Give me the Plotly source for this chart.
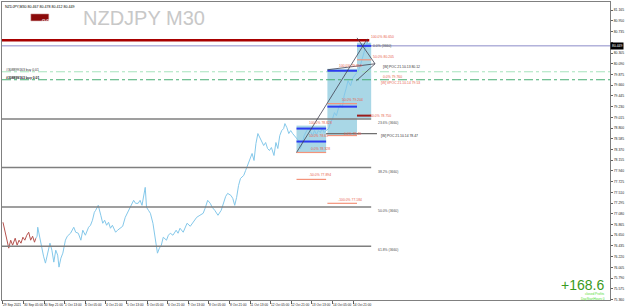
import plotly.graph_objects as go

# ---------------- data ----------------
symbol = "NZDJPY"
timeframe = "M30"
header_ohlc = ["80.467", "80.478", "80.412", "80.449"]
bid = 80.449

bars_red = [0, 3, 6, 9, 12, 15, 19, 22, 25, 28, 31, 34, 37, 40, 43, 46, 49, 51]
price_red = [76.909, 76.749, 76.549, 76.389, 76.549, 76.449, 76.589, 76.449, 76.549, 76.489,
             76.609, 76.549, 76.649, 76.709, 76.549, 76.629, 76.509, 76.589]

bars_blue = [51, 53, 54, 57, 60, 63, 66, 70, 73, 76,
             79, 82, 85, 87, 90, 93, 96, 97, 100, 105,
             110, 113, 117, 121, 124, 128, 133, 136, 139, 142,
             144, 147, 148, 152, 155, 158, 161, 164, 167, 170,
             175, 178, 182, 186, 190, 193, 198, 203, 206, 210,
             213, 216, 221, 223, 226, 229, 233, 237, 240, 243,
             246, 249, 254, 257, 260, 264, 269, 272, 275, 280,
             283, 286, 291, 295, 298, 301, 306, 311, 314, 318,
             322, 325, 329, 334, 339, 342, 346, 349, 354, 357,
             360, 363, 366, 369, 374, 377, 380, 383, 387, 390,
             393, 396, 399, 402, 405, 408, 411, 414, 417, 421,
             424, 427, 430, 433, 436, 438, 441, 444, 447, 450,
             453, 456, 459, 462, 465, 468, 472, 475, 478, 481,
             484, 487, 490, 493, 496, 499, 502, 506, 509, 512,
             515, 518, 521, 524, 527, 530, 533, 536, 540, 543,
             546, 549, 552, 555, 558, 561, 563, 564, 566, 567,
             569, 570]
price_blue = [76.589, 76.629, 76.809, 76.589, 76.449, 76.229, 76.089, 76.349, 76.489, 76.349,
              76.109, 76.349, 76.249, 76.009, 76.189, 76.289, 76.449, 76.549, 76.629, 76.689,
              76.809, 76.709, 76.689, 76.549, 76.749, 76.649, 76.809, 76.849, 76.949, 77.109,
              77.149, 77.209, 77.249, 77.049, 76.889, 76.949, 76.849, 76.909, 76.789, 76.849,
              76.709, 76.749, 76.789, 76.829, 77.009, 77.089, 77.189, 77.349, 77.289, 77.289,
              77.349, 77.249, 77.609, 77.209, 77.149, 77.089, 76.889, 76.549, 76.289, 76.389,
              76.449, 76.609, 76.549, 76.649, 76.689, 76.649, 76.749, 76.689, 76.789, 76.709,
              76.789, 76.889, 76.829, 76.909, 76.949, 77.009, 77.049, 77.089, 77.189, 77.349,
              77.289, 77.209, 77.149, 77.049, 77.149, 77.289, 77.429, 77.489, 77.449, 77.389,
              77.249, 77.409, 77.649, 77.789, 77.849, 77.949, 78.049, 78.189, 78.289, 78.149,
              78.489, 78.689, 78.609, 78.509, 78.449, 78.509, 78.389, 78.349, 78.409, 78.249,
              78.509, 78.389, 78.649, 78.749, 78.789, 78.889, 78.809, 78.689, 78.749, 78.689,
              78.649, 78.609, 78.549, 78.389, 78.489, 78.649, 78.749, 78.789, 78.709, 78.649,
              78.749, 78.669, 78.749, 78.709, 78.789, 78.709, 78.749, 78.789, 78.909, 78.989,
              79.109, 79.049, 79.189, 79.269, 79.209, 79.449, 79.589, 79.749, 79.649, 79.789,
              79.849, 79.889, 79.949, 80.049, 80.189, 80.289, 80.389, 80.449, 80.549, 80.429,
              80.509, 80.449]
assert len(bars_blue) == len(price_blue), (len(bars_blue), len(price_blue))
assert len(bars_red) == len(price_red)

time_tick_bars = [0, 32, 64, 96, 128, 160, 192, 224, 256, 288, 320, 352, 384, 416, 448, 480, 512, 544]
time_tick_labels = ["29 Sep 2021", "30 Sep 05:00", "30 Sep 21:00", "1 Oct 13:00", "4 Oct 05:00",
                    "4 Oct 21:00", "5 Oct 13:00", "6 Oct 05:00", "6 Oct 21:00", "7 Oct 13:00",
                    "8 Oct 05:00", "8 Oct 21:00", "11 Oct 13:00", "12 Oct 05:00", "12 Oct 21:00",
                    "13 Oct 13:00", "14 Oct 05:00", "14 Oct 21:00"]

price_ticks = [81.165, 80.950, 80.735, 80.520, 80.305, 80.090, 79.875, 79.660, 79.445, 79.230,
               79.015, 78.800, 78.585, 78.370, 78.155, 77.940, 77.725, 77.510, 77.295, 77.080,
               76.865, 76.650, 76.435, 76.220, 76.005, 75.790, 75.575, 75.360]

fib_high = 80.563
fib_low = 73.868
fib_ratios = [0.0, 23.6, 38.2, 50.0, 61.8]
fib_tag = "(3660)"
fib_end_bar = 572

order_labels = ["#308899163 buy 0.01", "#308899163 buy 0.01"]
order_prices = [79.929, 79.769]

# projection boxes: (bar start, bar end, top, bottom)
boxes = [(456, 502, 78.849, 78.309), (504, 550, 79.989, 78.649), (550, 572, 80.509, 78.989)]

# level segments: (bar0, bar1, price, kind)
level_segments = [
    (456, 502, 78.789, "blue"), (456, 502, 78.529, "blue"), (456, 502, 78.309, "salmon"),
    (456, 502, 77.769, "salmon"),
    (504, 550, 79.949, "blue"), (504, 550, 79.289, "salmon"), (504, 550, 79.229, "blue"),
    (504, 550, 78.649, "salmon"), (504, 550, 77.289, "salmon"),
    (550, 572, 80.449, "blue"), (550, 572, 80.169, "salmon"), (550, 572, 79.049, "darkred"),
    (502, 581, 78.689, "gray"),
]
# level labels: (bar, price, text, kind)
level_labels = [
    (569, 80.629, "100.0% 80.650", "salmon"), (572, 80.229, "50.0% 80.205", "salmon"),
    (587, 80.029, "[W] POC 21.10.13 80.12", "dark"), (587, 79.829, "0.0% 79.760", "salmon"),
    (584, 79.709, "[W] VPOC 21.10.14 79.53", "salmon"), (566, 79.049, "-50.0% 78.750", "salmon"),
    (519, 80.049, "100.0% 79.858", "salmon"), (523, 79.369, "50.0% 79.204", "salmon"),
    (526, 78.689, "0.0% 78.46", "salmon"), (584, 78.649, "[W] POC 21.10.14 78.47", "dark"),
    (518, 77.349, "-100.0% 77.184", "salmon"),
    (473, 78.909, "100.0% 78.828", "salmon"), (473, 78.649, "50.0% 78.61", "salmon"),
    (476, 78.389, "0.0% 78.328", "salmon"), (472, 77.849, "-50.0% 77.894", "salmon"),
]
# trend lines: (bar0, price0, bar1, price1)
trend_lines = [(456, 78.309, 566, 80.589), (504, 79.969, 578, 80.089), (550, 80.609, 578, 80.089),
               (578, 80.089, 549, 79.749)]

profit_text = "+168.6"

# ---------------- layout helpers ----------------
W, H = 625, 308
ML, MR, MT, MB = 1, 13, 1, 8
X0, X1 = -1.5, 943
Y0, Y1 = 75.349, 81.329
FONT = "Liberation Sans"
SMALL = 3.4
colors = {"blue": "#2c3cf0", "salmon": "#f4937a", "darkred": "#9b1b1b", "gray": "#707070",
          "dark": "#404040"}

fig = go.Figure()

# boxes (background)
for b0, b1, top, bot in boxes:
    fig.add_shape(type="rect", x0=b0, x1=b1, y0=bot, y1=top, layer="below",
                  fillcolor="#a9d7e6", line=dict(width=0))

# fib levels
for r in fib_ratios:
    p = fib_high - (fib_high - fib_low) * r / 100.0
    if r == 0.0:
        fig.add_shape(type="line", x0=X0, x1=fib_end_bar - 3, y0=p, y1=p,
                      line=dict(color="#a80000", width=2.5))
        fig.add_annotation(x=fib_end_bar, y=p, text="0.0% " + fib_tag, showarrow=False,
                           xanchor="left", yanchor="top", font=dict(size=SMALL, color="#505050", family=FONT),
                           yshift=-2)
    else:
        fig.add_shape(type="line", x0=X0, x1=fib_end_bar, y0=p, y1=p,
                      line=dict(color="#7f7f7f", width=1.5))
        fig.add_annotation(x=fib_end_bar + 7, y=p, text=f"{r:.1f}% " + fib_tag, showarrow=False,
                           xanchor="left", yanchor="top", font=dict(size=SMALL, color="#505050", family=FONT))

# bid line
fig.add_shape(type="line", x0=X0, x1=X1, y0=bid, y1=bid, line=dict(color="#8c8cc8", width=1))

# order lines
for lab, p, col in zip(order_labels, order_prices, ["#a6e3bd", "#47ad72"]):
    fig.add_shape(type="line", x0=X0, x1=X1, y0=p, y1=p, line=dict(color=col, width=1, dash="dashdot"))
fig.add_annotation(x=1, y=order_prices[0], text=order_labels[0], showarrow=False, xanchor="left",
                   yanchor="bottom", yshift=-2, font=dict(size=SMALL, color="#303030", family=FONT))
fig.add_annotation(x=1, y=order_prices[1], text="<b>" + order_labels[1] + "</b>", showarrow=False,
                   xanchor="left", yanchor="bottom", yshift=-2, font=dict(size=SMALL, color="#202020", family=FONT))

# level segments
for b0, b1, p, kind in level_segments:
    w = 2 if kind in ("blue", "darkred") else 1.2
    fig.add_shape(type="line", x0=b0, x1=b1, y0=p, y1=p, line=dict(color=colors[kind], width=w))

for b, p, t, kind in level_labels:
    fig.add_annotation(x=b, y=p, text=t, showarrow=False, xanchor="left", yanchor="middle",
                       font=dict(size=SMALL, color=("#e8604a" if kind == "salmon" else "#303030"), family=FONT))

for b0, p0, b1, p1 in trend_lines:
    fig.add_shape(type="line", x0=b0, x1=b1, y0=p0, y1=p1, line=dict(color="#404050", width=0.8))

# price series
fig.add_trace(go.Scatter(x=bars_red, y=price_red, mode="lines", line=dict(color="#b5524e", width=1),
                         hoverinfo="skip", showlegend=False))
fig.add_trace(go.Scatter(x=bars_blue, y=price_blue, mode="lines", line=dict(color="#84c8ea", width=1),
                         hoverinfo="skip", showlegend=False))

# x tick labels (left aligned like MT4)
for b, t in zip(time_tick_bars, time_tick_labels):
    fig.add_annotation(x=b, y=0, yref="paper", text=t, showarrow=False, xanchor="left", yanchor="top",
                       yshift=-1, xshift=-2, font=dict(size=3.2, color="#202020", family=FONT))

# current price box
fig.add_annotation(x=1, xref="paper", y=bid, text=f"{bid:.3f}", showarrow=False, xanchor="left",
                   yanchor="middle", bgcolor="#000000", font=dict(size=3.4, color="#ffffff", family=FONT),
                   borderpad=1, xshift=0)

# header text, button, watermark
fig.add_annotation(x=0.002, y=0.997, xref="paper", yref="paper", xanchor="left", yanchor="top",
                   text=f"{symbol},{timeframe} " + " ".join(header_ohlc), showarrow=False,
                   font=dict(size=3.6, color="#000000", family=FONT))
fig.add_shape(type="rect", xref="paper", yref="paper", x0=29 / 611, x1=47 / 611, y0=1 - 19 / 299,
              y1=1 - 12 / 299, fillcolor="#8b0a0a", line=dict(color="#d0a0a0", width=0.5))
fig.add_annotation(x=38 / 611, y=1 - 15.5 / 299, xref="paper", yref="paper", text="<b>CLOSE</b>",
                   showarrow=False, font=dict(size=3.2, color="#ffffff", family=FONT))
fig.add_annotation(x=79 / 611, y=0.99, xref="paper", yref="paper", xanchor="left", yanchor="top",
                   text=f"{symbol} {timeframe}", showarrow=False,
                   font=dict(size=20, color="#c8c8c8", family=FONT))

# profit
fig.add_annotation(x=1, y=1 - 284 / 299, xref="paper", yref="paper", xanchor="right",
                   yanchor="middle", text=profit_text, showarrow=False, xshift=-4,
                   font=dict(size=14, color="#3a9a22", family=FONT))
fig.add_annotation(x=1, y=1 - 293 / 299, xref="paper", yref="paper", xanchor="right", yanchor="middle",
                   text="closed Profits", showarrow=False, xshift=-3, font=dict(size=3.2, color="#55dd33", family=FONT))
fig.add_annotation(x=1, y=1 - 298 / 299, xref="paper", yref="paper", xanchor="right", yanchor="middle",
                   text="DayStartHours 0", showarrow=False, xshift=-3, font=dict(size=3.2, color="#55dd33", family=FONT))

tick_text = [("" if abs(v - bid) < 0.1 else f"{v:.3f}") for v in price_ticks]
fig.update_layout(
    width=W, height=H, margin=dict(l=ML, r=MR, t=MT, b=MB), paper_bgcolor="#ffffff",
    plot_bgcolor="#ffffff", showlegend=False,
    xaxis=dict(range=[X0, X1], showgrid=False, zeroline=False, tickvals=time_tick_bars,
               showticklabels=False, ticks="outside", ticklen=3, tickcolor="#606060",
               showline=True, linecolor="#808080", linewidth=1, mirror=True),
    yaxis=dict(range=[Y0, Y1], side="right", showgrid=False, zeroline=False, tickvals=price_ticks,
               ticktext=tick_text, ticks="outside", ticklen=2,
               tickcolor="#606060", tickfont=dict(size=3.4, color="#202020", family=FONT),
               showline=True, linecolor="#808080", linewidth=1, mirror=True),
)

fig.write_html("out.html")
